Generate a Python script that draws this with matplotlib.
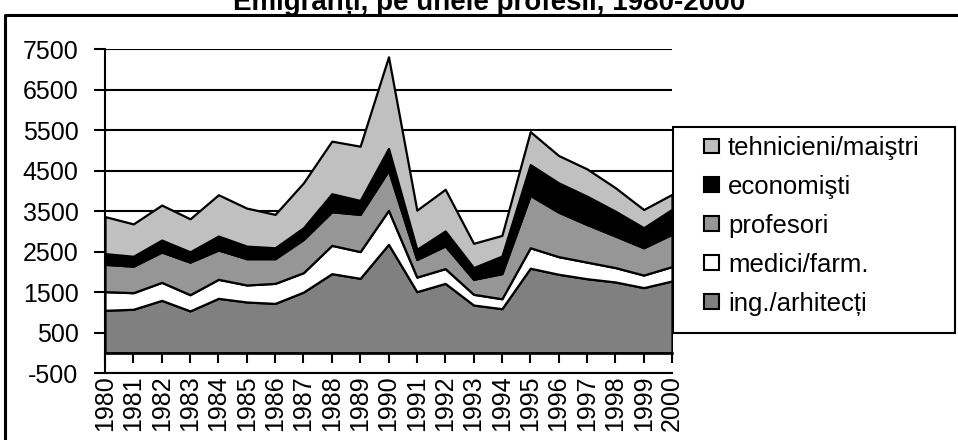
import matplotlib
matplotlib.use("Agg")
import matplotlib.pyplot as plt
from matplotlib.lines import Line2D
from matplotlib.patches import Patch, Rectangle
import numpy as np

plt.rcParams["font.family"] = ["Liberation Sans", "DejaVu Sans"]
plt.rcParams["axes.unicode_minus"] = False

years = list(range(1980, 2001))
ing_arhitecti = [1050, 1075, 1295, 1035, 1345, 1255, 1220, 1500, 1955, 1840, 2680,
                 1510, 1715, 1180, 1090, 2090, 1940, 1830, 1750, 1610, 1775]
medici_farm = [460, 410, 445, 400, 470, 420, 495, 480, 700, 660, 840,
               360, 365, 265, 245, 505, 435, 410, 355, 310, 355]
profesori = [675, 655, 750, 805, 725, 650, 610, 820, 830, 920, 985,
             435, 560, 370, 620, 1295, 1100, 930, 780, 675, 800]
economisti = [265, 245, 295, 255, 345, 310, 270, 290, 445, 345, 545,
              250, 370, 290, 435, 760, 725, 700, 615, 495, 615]
tehnicieni = [915, 800, 865, 815, 1020, 940, 825, 1110, 1300, 1340, 2265,
              970, 1030, 600, 510, 815, 675, 675, 580, 450, 370]

labels = ["ing./arhitecți", "medici/farm.", "profesori", "economişti", "tehnicieni/maiştri"]
series = [ing_arhitecti, medici_farm, profesori, economisti, tehnicieni]
colors = ["#808080", "#ffffff", "#969696", "#000000", "#c0c0c0"]
yticks = list(range(-500, 7501, 1000))

W, H = 958, 440
fig = plt.figure(figsize=(W / 100, H / 100), dpi=100)
ax = fig.add_axes([105 / W, 1 - 373 / H, (672 - 105) / W, (373 - 49.3) / H])

# stacked areas with black outlines
base = np.zeros(len(years))
for vals, col in zip(series, colors):
    top = base + np.array(vals)
    ax.fill_between(years, base, top, facecolor=col, edgecolor="black", lw=1.6, zorder=2)
    base = top

ax.set_xlim(years[0], years[-1])
ax.set_ylim(yticks[0], yticks[-1])
ax.set_axisbelow(True)
ax.yaxis.grid(True, color="black", lw=1.5)
ax.set_yticks(yticks)
ax.tick_params(axis="y", direction="out", length=8, width=1.5, pad=11, labelsize=18)

for s in ("top", "right"):
    ax.spines[s].set_visible(False)
ax.spines["left"].set_linewidth(1.5)
ax.spines["bottom"].set_position(("data", 0))
ax.spines["bottom"].set_linewidth(1.8)
ax.spines["bottom"].set_zorder(3)
ax.set_xticks(years)
ax.tick_params(axis="x", direction="out", length=7, width=1.5, labelbottom=False)

# category labels sit under the -500 line
sec = ax.secondary_xaxis(0.0)
sec.set_xticks(years, [str(y) for y in years])
sec.tick_params(length=0, pad=1.5, labelsize=18, labelrotation=90)
sec.spines["bottom"].set_linewidth(1.5)

# legend: frame drawn separately so side padding can differ from top padding
fig.add_artist(Rectangle((673 / W, 1 - 333 / H), (955 - 673) / W, (333 - 127.5) / H,
                         facecolor="white", edgecolor="black", lw=1.5,
                         transform=fig.transFigure, zorder=4))
handles = [Patch(facecolor=c, edgecolor="black", lw=1.5) for c in colors][::-1]
leg = fig.legend(handles, labels[::-1], loc="upper left",
                 bbox_to_anchor=(704 / W, 1 - 136 / H), borderaxespad=0, borderpad=0,
                 fontsize=18.5, frameon=False, handlelength=0.58, handleheight=0.5,
                 handletextpad=0.35, labelspacing=0.58)
leg.set_zorder(5)

# outer chart border (only top and left visible)
fig.add_artist(Line2D([5 / W, 5 / W, 1.01], [-0.01, 1 - 15 / H, 1 - 15 / H],
                      color="black", lw=2.2, transform=fig.transFigure))

fig.text(489 / W, 1 - 10 / H, "Emigranți, pe unele profesii, 1980-2000",
         ha="center", va="baseline", fontsize=20, fontweight="bold")

fig.savefig("out.png", dpi=100)
